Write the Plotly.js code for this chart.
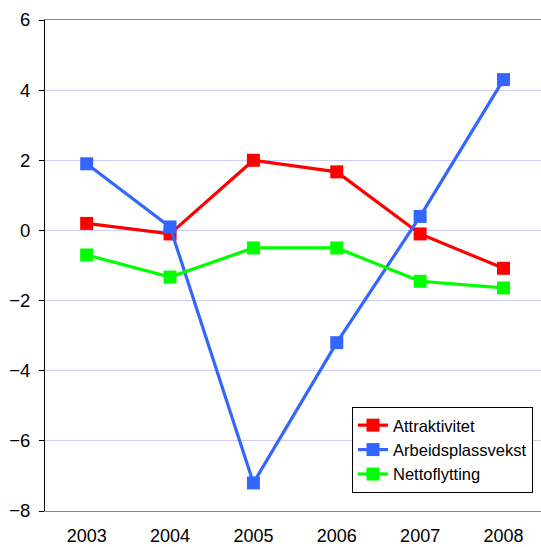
<!DOCTYPE html>
<html>
<head>
<meta charset="utf-8">
<script src="https://cdn.plot.ly/plotly-3.0.1.min.js"></script>
<style>html,body{margin:0;padding:0;overflow:hidden;background:#fff}</style>
</head>
<body>
<div id="chart" style="width:541px;height:547px"></div>
<script>
var years = ["2003", "2004", "2005", "2006", "2007", "2008"];
var attraktivitet = [0.2, -0.1, 2.0, 1.67, -0.1, -1.08];
var arbeidsplassvekst = [1.9, 0.1, -7.2, -3.2, 0.4, 4.3];
var nettoflytting = [-0.7, -1.33, -0.5, -0.5, -1.45, -1.64];
var seriesNames = ["Attraktivitet", "Arbeidsplassvekst", "Nettoflytting"];
var yTicks = [-8, -6, -4, -2, 0, 2, 4, 6];

function mk(name, y, color) {
  return {
    type: "scatter", mode: "lines+markers", name: name, x: years, y: y,
    line: {color: color, width: 3.2},
    marker: {symbol: "square", size: 13, color: color}
  };
}
var data = [
  mk(seriesNames[0], attraktivitet, "#ff0000"),
  mk(seriesNames[1], arbeidsplassvekst, "#3366ff"),
  mk(seriesNames[2], nettoflytting, "#00ff00")
];
var layout = {
  width: 541, height: 547,
  margin: {l: 45, r: 0, t: 20, b: 36},
  paper_bgcolor: "#ffffff", plot_bgcolor: "#ffffff",
  font: {family: "Liberation Sans, Arial, sans-serif", color: "#000"},
  showlegend: true,
  legend: {
    x: 0.619, y: 0.212, xanchor: "left", yanchor: "top",
    bordercolor: "#000", borderwidth: 1, bgcolor: "#fff",
    font: {size: 16.5, color: "#000"}, tracegroupgap: 0
  },
  xaxis: {
    type: "category", range: [-0.5, 5.45],
    showgrid: false, zeroline: false,
    showline: true, linecolor: "#888", linewidth: 1, mirror: true,
    ticks: "", tickfont: {size: 18}, ticklabelstandoff: 8
  },
  xaxis2: {
    overlaying: "x", anchor: "free", position: 8/14,
    type: "linear", range: [-0.5, 5.45],
    tickvals: [0.5, 1.5, 2.5, 3.5, 4.5],
    ticks: "outside", ticklen: 5, tickcolor: "#000", tickwidth: 1,
    showticklabels: false, showgrid: false, zeroline: false,
    showline: true, linecolor: "#555", linewidth: 1
  },
  yaxis: {
    range: [-8, 6], tickvals: yTicks,
    showgrid: true, gridcolor: "#ccccff", gridwidth: 1,
    zeroline: false,
    showline: true, linecolor: "#000", linewidth: 1,
    ticks: "outside", ticklen: 5, tickcolor: "#000",
    tickfont: {size: 18.5}, ticklabelstandoff: 5
  }
};
Plotly.newPlot("chart", data, layout, {displayModeBar: false, staticPlot: true});
</script>
</body>
</html>
